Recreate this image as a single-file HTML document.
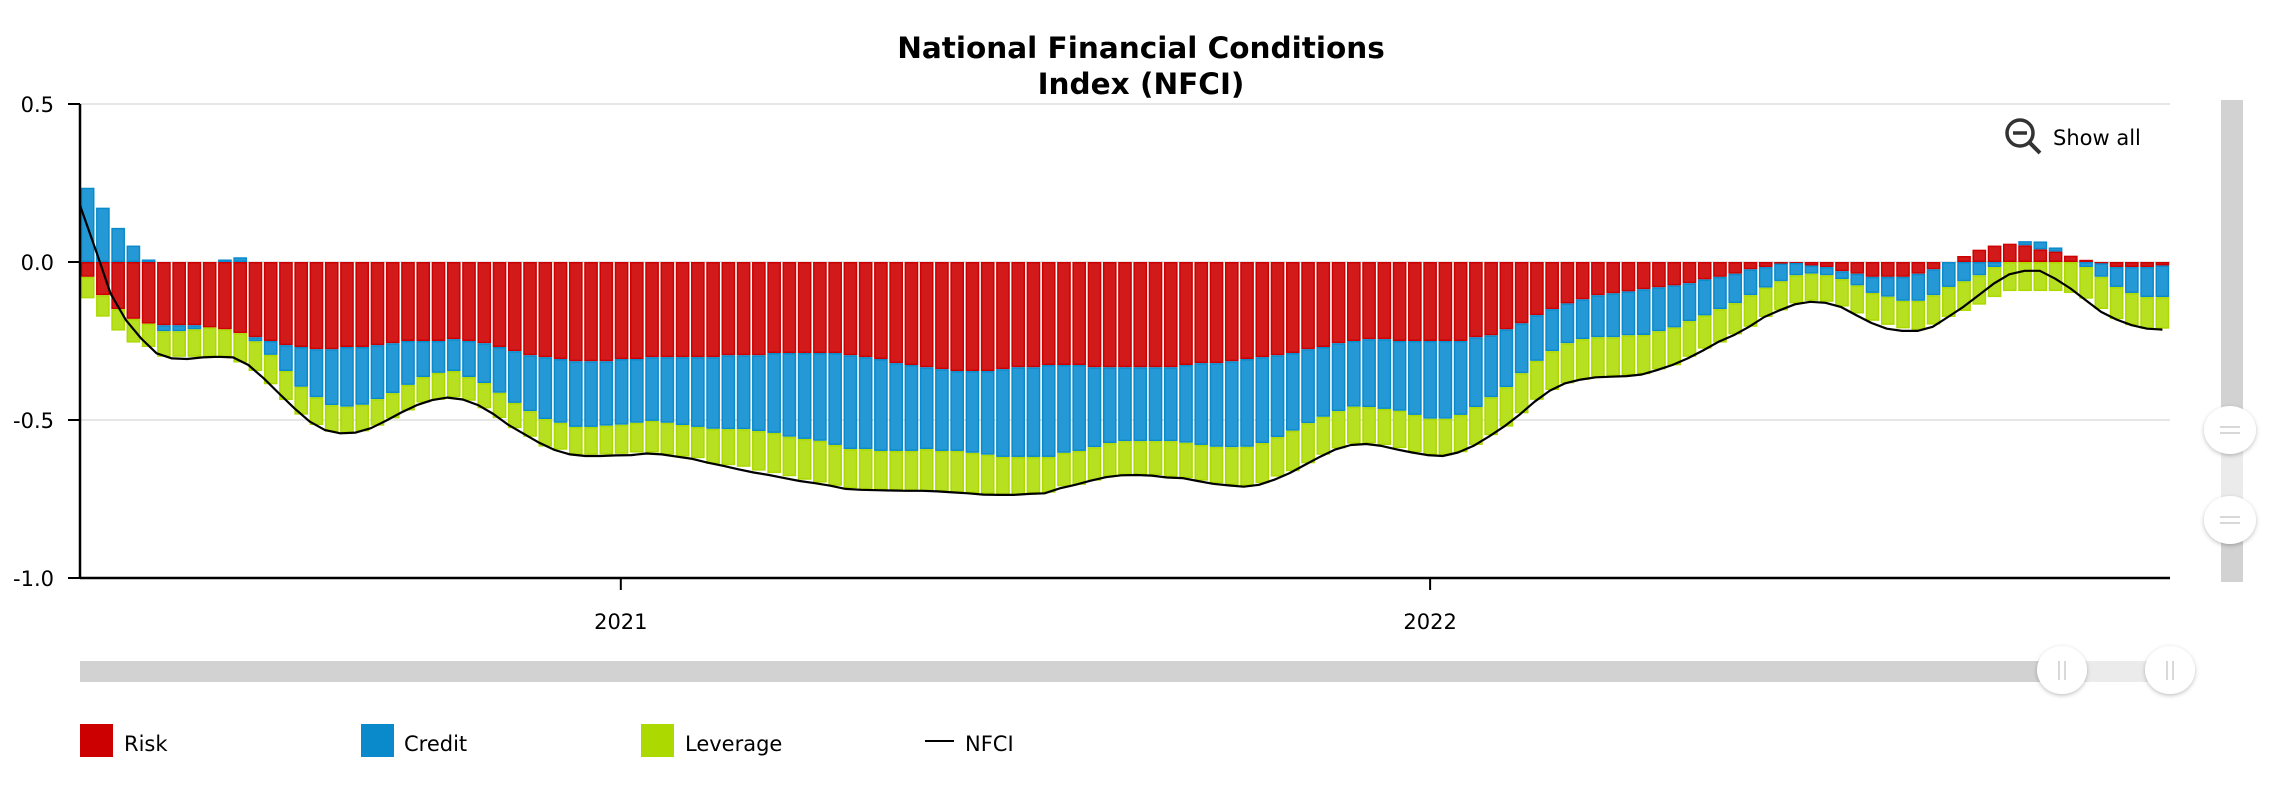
<!DOCTYPE html>
<html><head><meta charset="utf-8">
<style>
html,body{margin:0;padding:0;background:#fff;}
body{width:2280px;height:800px;overflow:hidden;font-family:"DejaVu Sans","Liberation Sans",sans-serif;}
svg{display:block;}
</style></head>
<body>
<svg id="chart" width="2280" height="800" xmlns="http://www.w3.org/2000/svg">
  <defs>
    <filter id="sh" x="-30%" y="-30%" width="160%" height="160%"><feDropShadow dx="0" dy="1.5" stdDeviation="2" flood-color="#000" flood-opacity="0.25"/></filter>
  </defs>
  <text x="1141" y="58" text-anchor="middle" font-family="DejaVu Sans, Liberation Sans, sans-serif" font-weight="bold" font-size="29.5" fill="#000">National Financial Conditions</text>
  <text x="1141" y="94" text-anchor="middle" font-family="DejaVu Sans, Liberation Sans, sans-serif" font-weight="bold" font-size="29.5" fill="#000">Index (NFCI)</text>
  <g id="grid"></g>
  <g id="bars"></g>
  <g id="line"></g>
  <g id="axes"></g>
  <g>
    <circle cx="2020" cy="133" r="13" fill="none" stroke="#333" stroke-width="3.5"/>
    <line x1="2013" y1="133" x2="2027" y2="133" stroke="#333" stroke-width="3.5"/>
    <line x1="2029" y1="142" x2="2040" y2="153" stroke="#333" stroke-width="4"/>
    <text x="2053" y="145" font-size="21" fill="#000">Show all</text>
  </g>
  <g>
    <rect x="2221" y="100" width="22" height="482" fill="#d2d2d2"/>
    <rect x="2221" y="430" width="22" height="90" fill="#ebebeb"/>
    <g filter="url(#sh)">
      <ellipse cx="2230" cy="430" rx="26" ry="24" fill="#fff"/>
      <line x1="2220" y1="427" x2="2240" y2="427" stroke="#ccc" stroke-width="1.5"/>
      <line x1="2220" y1="433" x2="2240" y2="433" stroke="#ccc" stroke-width="1.5"/>
    </g>
    <g filter="url(#sh)">
      <ellipse cx="2230" cy="520" rx="26" ry="24" fill="#fff"/>
      <line x1="2220" y1="517" x2="2240" y2="517" stroke="#ccc" stroke-width="1.5"/>
      <line x1="2220" y1="523" x2="2240" y2="523" stroke="#ccc" stroke-width="1.5"/>
    </g>
  </g>
  <g>
    <rect x="80" y="661" width="1982" height="21" fill="#d2d2d2"/>
    <rect x="2062" y="661" width="108" height="21" fill="#ebebeb"/>
    <g filter="url(#sh)">
      <ellipse cx="2062" cy="670" rx="25" ry="24" fill="#fff"/>
      <line x1="2059" y1="661" x2="2059" y2="680" stroke="#ccc" stroke-width="1.5"/>
      <line x1="2065" y1="661" x2="2065" y2="680" stroke="#ccc" stroke-width="1.5"/>
    </g>
    <g filter="url(#sh)">
      <ellipse cx="2170" cy="670" rx="25" ry="24" fill="#fff"/>
      <line x1="2167" y1="661" x2="2167" y2="680" stroke="#ccc" stroke-width="1.5"/>
      <line x1="2173" y1="661" x2="2173" y2="680" stroke="#ccc" stroke-width="1.5"/>
    </g>
  </g>
  <g font-size="21" fill="#000">
    <g>
      <rect x="80" y="724" width="33" height="33" fill="#cc0000"/>
      <text x="124" y="751">Risk</text>
    </g>
    <g>
      <rect x="361" y="724" width="33" height="33" fill="#0a8acb"/>
      <text x="404" y="751">Credit</text>
    </g>
    <g>
      <rect x="641" y="724" width="33" height="33" fill="#acd900"/>
      <text x="685" y="751">Leverage</text>
    </g>
    <g>
      <line x1="925" y1="741" x2="954" y2="741" stroke="#000" stroke-width="2"/>
      <text x="965" y="751">NFCI</text>
    </g>
  </g>
</svg>
<script>
const risk = [-0.047,-0.105,-0.149,-0.18,-0.195,-0.2,-0.2,-0.2,-0.207,-0.213,-0.225,-0.238,-0.25,-0.263,-0.269,-0.276,-0.276,-0.269,-0.269,-0.263,-0.257,-0.25,-0.25,-0.25,-0.244,-0.25,-0.257,-0.269,-0.282,-0.295,-0.301,-0.307,-0.314,-0.314,-0.314,-0.307,-0.307,-0.301,-0.301,-0.301,-0.301,-0.301,-0.295,-0.295,-0.295,-0.288,-0.288,-0.288,-0.288,-0.288,-0.295,-0.301,-0.307,-0.32,-0.326,-0.333,-0.339,-0.345,-0.345,-0.345,-0.339,-0.333,-0.333,-0.326,-0.326,-0.326,-0.333,-0.333,-0.333,-0.333,-0.333,-0.333,-0.326,-0.32,-0.32,-0.314,-0.307,-0.301,-0.295,-0.288,-0.276,-0.269,-0.257,-0.25,-0.244,-0.244,-0.25,-0.25,-0.25,-0.25,-0.25,-0.238,-0.232,-0.213,-0.194,-0.168,-0.149,-0.131,-0.118,-0.105,-0.099,-0.093,-0.086,-0.08,-0.074,-0.067,-0.055,-0.047,-0.037,-0.023,-0.016,-0.005,-0.003,-0.011,-0.016,-0.029,-0.037,-0.047,-0.047,-0.047,-0.037,-0.023,0,0.019,0.039,0.052,0.058,0.053,0.04,0.033,0.02,0.007,-0.004,-0.016,-0.016,-0.016,-0.011];
const credit = [0.235,0.172,0.108,0.052,0.008,-0.019,-0.019,-0.013,0,0.008,0.015,-0.013,-0.044,-0.082,-0.126,-0.152,-0.177,-0.189,-0.183,-0.171,-0.158,-0.139,-0.114,-0.101,-0.101,-0.114,-0.126,-0.145,-0.164,-0.177,-0.196,-0.202,-0.208,-0.208,-0.204,-0.208,-0.202,-0.202,-0.208,-0.215,-0.221,-0.227,-0.234,-0.234,-0.24,-0.253,-0.265,-0.272,-0.278,-0.291,-0.297,-0.291,-0.291,-0.278,-0.272,-0.259,-0.259,-0.253,-0.259,-0.265,-0.278,-0.284,-0.284,-0.291,-0.278,-0.272,-0.253,-0.24,-0.234,-0.234,-0.234,-0.234,-0.246,-0.259,-0.265,-0.272,-0.278,-0.272,-0.259,-0.246,-0.234,-0.221,-0.215,-0.208,-0.215,-0.221,-0.221,-0.234,-0.246,-0.246,-0.234,-0.221,-0.196,-0.183,-0.158,-0.145,-0.133,-0.126,-0.126,-0.133,-0.139,-0.139,-0.145,-0.139,-0.133,-0.12,-0.114,-0.102,-0.093,-0.082,-0.065,-0.056,-0.039,-0.026,-0.026,-0.025,-0.037,-0.051,-0.063,-0.076,-0.086,-0.082,-0.079,-0.061,-0.042,-0.016,0,0.013,0.025,0.013,0,-0.016,-0.043,-0.063,-0.082,-0.095,-0.1];
const leverage = [-0.068,-0.068,-0.068,-0.075,-0.074,-0.081,-0.081,-0.087,-0.093,-0.087,-0.093,-0.094,-0.093,-0.092,-0.088,-0.088,-0.084,-0.083,-0.084,-0.084,-0.08,-0.081,-0.081,-0.085,-0.083,-0.075,-0.08,-0.08,-0.08,-0.081,-0.087,-0.085,-0.088,-0.088,-0.091,-0.092,-0.094,-0.1,-0.101,-0.1,-0.099,-0.111,-0.114,-0.119,-0.125,-0.127,-0.125,-0.129,-0.132,-0.129,-0.124,-0.127,-0.123,-0.125,-0.126,-0.133,-0.128,-0.132,-0.127,-0.124,-0.12,-0.12,-0.115,-0.113,-0.106,-0.107,-0.106,-0.106,-0.107,-0.107,-0.107,-0.113,-0.112,-0.113,-0.115,-0.12,-0.123,-0.127,-0.125,-0.128,-0.127,-0.12,-0.118,-0.117,-0.115,-0.114,-0.118,-0.118,-0.114,-0.116,-0.118,-0.12,-0.12,-0.125,-0.127,-0.123,-0.123,-0.127,-0.129,-0.127,-0.123,-0.126,-0.124,-0.121,-0.12,-0.113,-0.105,-0.106,-0.099,-0.1,-0.093,-0.092,-0.089,-0.086,-0.084,-0.087,-0.089,-0.088,-0.089,-0.087,-0.093,-0.093,-0.095,-0.094,-0.093,-0.095,-0.092,-0.092,-0.092,-0.092,-0.098,-0.1,-0.102,-0.102,-0.102,-0.1,-0.1];
const nfci = [0.179,0.042,-0.1,-0.184,-0.242,-0.289,-0.305,-0.307,-0.302,-0.3,-0.302,-0.326,-0.368,-0.416,-0.463,-0.505,-0.532,-0.542,-0.54,-0.526,-0.502,-0.476,-0.453,-0.437,-0.429,-0.435,-0.453,-0.481,-0.516,-0.544,-0.572,-0.595,-0.609,-0.614,-0.614,-0.612,-0.611,-0.606,-0.609,-0.616,-0.623,-0.635,-0.645,-0.656,-0.666,-0.674,-0.684,-0.693,-0.7,-0.708,-0.718,-0.721,-0.722,-0.723,-0.724,-0.724,-0.726,-0.729,-0.732,-0.736,-0.737,-0.737,-0.734,-0.732,-0.716,-0.705,-0.692,-0.681,-0.675,-0.674,-0.676,-0.682,-0.684,-0.693,-0.702,-0.707,-0.711,-0.705,-0.689,-0.668,-0.642,-0.616,-0.593,-0.579,-0.576,-0.582,-0.593,-0.603,-0.611,-0.614,-0.603,-0.582,-0.553,-0.521,-0.484,-0.442,-0.407,-0.384,-0.372,-0.365,-0.363,-0.361,-0.356,-0.342,-0.326,-0.305,-0.28,-0.253,-0.232,-0.205,-0.174,-0.153,-0.134,-0.126,-0.129,-0.142,-0.168,-0.193,-0.211,-0.218,-0.218,-0.205,-0.174,-0.142,-0.105,-0.068,-0.039,-0.028,-0.028,-0.053,-0.084,-0.121,-0.158,-0.182,-0.2,-0.211,-0.214];
const yTicks = [0.5, 0, -0.5, -1];
const yTickLabels = ["0.5","0.0","-0.5","-1.0"];
const xTickLabels = ["2021","2022"];
const xTickIdx = [35.45, 88.5];

const NS = "http://www.w3.org/2000/svg";
const L = 80, R = 2170, Y0 = 262, PXU = 316;
const n = risk.length;
const pitch = (R - L) / n;
function yS(v){ return Y0 - v * PXU; }
function xS(i){ return L + i * pitch; }
function mk(tag, attrs, parent){ const e = document.createElementNS(NS, tag); for (const k in attrs) e.setAttribute(k, attrs[k]); parent.appendChild(e); return e; }

const grid = document.getElementById('grid');
const axes = document.getElementById('axes');
yTicks.forEach((t, k) => {
  if (t !== -1) {
    const g = mk('line', {x1:L, x2:R, y1:yS(t), y2:yS(t), stroke:'#e6e6e6', 'stroke-width':2}, grid);
    
    
  }
  const tk = mk('line', {x1:L-12, x2:L, y1:yS(t), y2:yS(t), stroke:'#000', 'stroke-width':2}, axes);
  
  
  const tx = mk('text', {x:54, y:yS(t)+8, 'text-anchor':'end', 'font-size':21, fill:'#000'}, axes);
  tx.textContent = yTickLabels[k];
  
  
});
const ax = mk('line', {x1:L, x2:R, y1:yS(-1), y2:yS(-1), stroke:'#000', 'stroke-width':2.5}, axes);


const ay = mk('line', {x1:L, x2:L, y1:yS(0.5), y2:yS(-1)+1, stroke:'#000', 'stroke-width':2.5}, axes);


xTickLabels.forEach((lab, k) => {
  const x = xS(xTickIdx[k]);
  const tk = mk('line', {x1:x, x2:x, y1:yS(-1), y2:yS(-1)+12, stroke:'#000', 'stroke-width':2}, axes);
  
  
  const tx = mk('text', {x:x, y:629, 'text-anchor':'middle', 'font-size':21, fill:'#000'}, axes);
  tx.textContent = lab;
  
  
});

const bars = document.getElementById('bars');
const series = [
  {vals:risk, fill:'#d31a1b', stroke:'#cc0000', name:'risk'},
  {vals:credit, fill:'#2499d5', stroke:'#0a8acb', name:'credit'},
  {vals:leverage, fill:'#b7e021', stroke:'#acd900', name:'leverage'}
];
const bw = pitch - 1.6;
for (let i = 0; i < n; i++) {
  let pos = 0, neg = 0;
  series.forEach(s => {
    const v = s.vals[i];
    if (v === 0) return;
    let top, bot;
    if (v > 0) { top = yS(pos + v); bot = yS(pos); pos += v; }
    else { top = yS(neg); bot = yS(neg + v); neg += v; }
    const r = mk('rect', {x:xS(i)+0.8+0.75, y:top+0.75, width:Math.max(bw-1.5,0.5), height:Math.max(bot-top-1.5,0.5), fill:s.fill, stroke:s.stroke, 'stroke-width':1.5}, bars);
    
    
  });
}

const lineG = document.getElementById('line');
const lstep = (R - L - pitch/2) / (nfci.length - 1);
const d = nfci.map((v, i) => (i ? 'L' : 'M') + (L + i * lstep).toFixed(1) + ' ' + yS(v).toFixed(1)).join(' ');
const p = mk('path', {d:d, fill:'none', stroke:'#000', 'stroke-width':2.2, 'stroke-linejoin':'round'}, lineG);


</script>
</body></html>
